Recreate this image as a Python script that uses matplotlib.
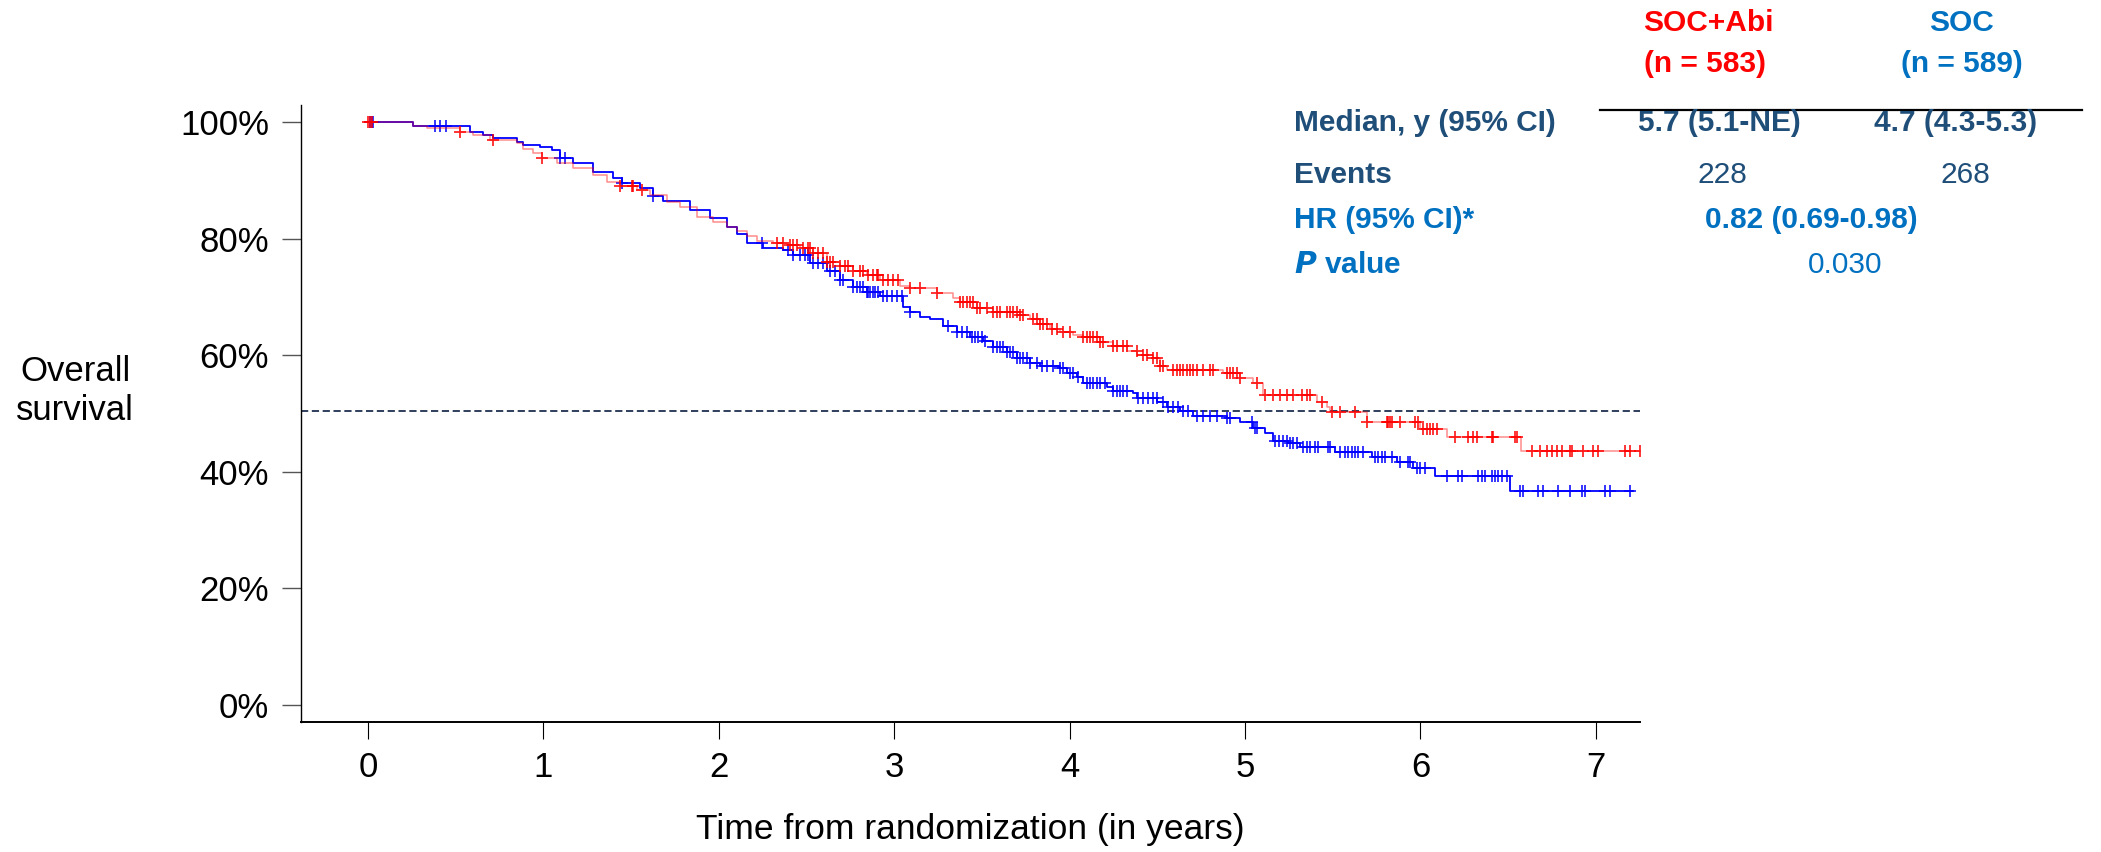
import numpy as np
import matplotlib
matplotlib.use("Agg")
import matplotlib.pyplot as plt

# -----------------------------
# Kaplan-Meier steps (years, survival after each drop)
# -----------------------------
abi_t = [0.0, 0.258, 0.334, 0.392, 0.525, 0.601, 0.696, 0.848, 0.885, 0.943,
         0.990, 1.076, 1.171, 1.285, 1.361, 1.437, 1.532, 1.608, 1.703, 1.779,
         1.874, 1.969, 2.045, 2.102, 2.159, 2.216, 2.311, 2.387, 2.463, 2.539,
         2.615, 2.691, 2.767, 2.843, 2.919, 3.033, 3.090, 3.242, 3.337, 3.375,
         3.470, 3.565, 3.717, 3.774, 3.831, 3.888, 3.945, 4.021, 4.078, 4.173,
         4.249, 4.326, 4.383, 4.477, 4.515, 4.553, 4.876, 4.971, 5.047, 5.104,
         5.409, 5.467, 5.486, 5.694, 5.998, 6.150, 6.575]
abi_s = [1.000, 0.993, 0.991, 0.990, 0.984, 0.978, 0.970, 0.964, 0.955, 0.947,
         0.938, 0.930, 0.921, 0.910, 0.898, 0.891, 0.884, 0.875, 0.864, 0.855,
         0.838, 0.829, 0.821, 0.814, 0.804, 0.797, 0.793, 0.789, 0.784, 0.775,
         0.761, 0.753, 0.744, 0.738, 0.729, 0.719, 0.715, 0.7075, 0.698, 0.692,
         0.682, 0.675, 0.669, 0.662, 0.654, 0.646, 0.640, 0.635, 0.631, 0.622,
         0.616, 0.608, 0.6005, 0.595, 0.582, 0.575, 0.569, 0.5605, 0.552, 0.532,
         0.520, 0.512, 0.502, 0.486, 0.473, 0.459, 0.436]
abi_end = 7.252

soc_t = [0.0, 0.258, 0.582, 0.658, 0.715, 0.848, 0.885, 0.981, 1.047, 1.095,
         1.171, 1.285, 1.399, 1.446, 1.551, 1.627, 1.684, 1.836, 1.950, 2.045,
         2.102, 2.159, 2.254, 2.368, 2.425, 2.520, 2.615, 2.691, 2.767, 2.843,
         2.919, 3.052, 3.090, 3.147, 3.204, 3.280, 3.356, 3.432, 3.508, 3.565,
         3.641, 3.698, 3.774, 3.831, 3.945, 3.983, 4.040, 4.078, 4.211, 4.249,
         4.363, 4.383, 4.497, 4.553, 4.629, 4.705, 4.895, 4.970, 5.048, 5.114,
         5.162, 5.247, 5.314, 5.513, 5.722, 5.865, 5.960, 6.083, 6.511]
soc_s = [1.000, 0.993, 0.984, 0.978, 0.9725, 0.967, 0.961, 0.957, 0.952, 0.938,
         0.930, 0.915, 0.904, 0.895, 0.887, 0.873, 0.865, 0.849, 0.835, 0.820,
         0.809, 0.792, 0.785, 0.781, 0.772, 0.758, 0.744, 0.729, 0.718, 0.709,
         0.701, 0.683, 0.675, 0.666, 0.662, 0.650, 0.640, 0.632, 0.625, 0.615,
         0.606, 0.595, 0.587, 0.582, 0.578, 0.570, 0.562, 0.552, 0.546, 0.539,
         0.535, 0.526, 0.519, 0.512, 0.505, 0.496, 0.492, 0.486, 0.475, 0.466,
         0.453, 0.449, 0.443, 0.4335, 0.426, 0.416, 0.406, 0.392, 0.367]
soc_end = 7.214

# censoring times
abi_cens = [0.0, 0.01, 0.02, 0.525, 0.715, 0.990, 1.437, 1.503, 1.512, 1.560,
            2.330, 2.368, 2.406, 2.425, 2.444, 2.482, 2.511, 2.520, 2.539, 2.567,
            2.596, 2.615, 2.634, 2.653, 2.691, 2.719, 2.738, 2.767, 2.805, 2.824,
            2.852, 2.881, 2.900, 2.910, 2.938, 2.967, 2.995, 3.024, 3.090, 3.147,
            3.242, 3.375, 3.394, 3.413, 3.432, 3.451, 3.470, 3.489, 3.527, 3.565,
            3.584, 3.603, 3.641, 3.660, 3.679, 3.698, 3.717, 3.736, 3.793, 3.812,
            3.831, 3.850, 3.869, 3.898, 3.926, 3.964, 4.002, 4.078, 4.097, 4.116,
            4.135, 4.154, 4.173, 4.192, 4.249, 4.268, 4.306, 4.325, 4.382, 4.420,
            4.439, 4.477, 4.496, 4.515, 4.534, 4.591, 4.610, 4.629, 4.648, 4.667,
            4.686, 4.705, 4.724, 4.762, 4.800, 4.819, 4.895, 4.914, 4.933, 4.952,
            4.972, 5.067, 5.114, 5.162, 5.200, 5.238, 5.276, 5.324, 5.352, 5.371,
            5.438, 5.495, 5.542, 5.628, 5.694, 5.808, 5.818, 5.827, 5.837, 5.884,
            5.970, 5.989, 6.017, 6.036, 6.055, 6.074, 6.093, 6.198, 6.274, 6.302,
            6.321, 6.407, 6.416, 6.540, 6.549, 6.635, 6.682, 6.720, 6.749, 6.777,
            6.806, 6.853, 6.863, 6.929, 6.986, 7.015, 7.167, 7.195, 7.252]
soc_cens = [0.01, 0.02, 0.03, 0.382, 0.410, 0.445, 1.095, 1.124, 1.446, 1.627,
            2.245, 2.396, 2.425, 2.463, 2.492, 2.511, 2.539, 2.567, 2.596, 2.634,
            2.662, 2.691, 2.710, 2.767, 2.786, 2.805, 2.824, 2.843, 2.853, 2.862,
            2.881, 2.890, 2.909, 2.938, 2.957, 2.986, 3.014, 3.043, 3.090, 3.309,
            3.356, 3.385, 3.413, 3.442, 3.461, 3.480, 3.499, 3.518, 3.565, 3.584,
            3.603, 3.622, 3.641, 3.660, 3.679, 3.698, 3.717, 3.736, 3.755, 3.774,
            3.812, 3.841, 3.869, 3.907, 3.945, 3.964, 4.002, 4.021, 4.050, 4.097,
            4.116, 4.135, 4.154, 4.173, 4.202, 4.249, 4.268, 4.287, 4.306, 4.325,
            4.392, 4.420, 4.449, 4.477, 4.496, 4.534, 4.563, 4.591, 4.620, 4.648,
            4.677, 4.724, 4.762, 4.800, 4.838, 4.895, 4.914, 5.039, 5.058, 5.067,
            5.172, 5.191, 5.219, 5.238, 5.257, 5.276, 5.295, 5.333, 5.352, 5.371,
            5.400, 5.419, 5.476, 5.485, 5.542, 5.571, 5.590, 5.609, 5.628, 5.647,
            5.675, 5.742, 5.761, 5.780, 5.799, 5.837, 5.884, 5.932, 5.941, 5.979,
            5.998, 6.027, 6.150, 6.217, 6.236, 6.331, 6.350, 6.369, 6.407, 6.426,
            6.445, 6.464, 6.492, 6.568, 6.587, 6.673, 6.701, 6.787, 6.853, 6.920,
            6.939, 7.053, 7.081, 7.195]

x_ticks = [0, 1, 2, 3, 4, 5, 6, 7]
y_ticks = [0.0, 0.2, 0.4, 0.6, 0.8, 1.0]
y_ticklabels = ["0%", "20%", "40%", "60%", "80%", "100%"]
median_level = 0.505

# summary table
arm_names = ["SOC+Abi", "SOC"]
arm_n = ["(n = 583)", "(n = 589)"]
medians = ["5.7 (5.1-NE)", "4.7 (4.3-5.3)"]
events = ["228", "268"]
hr_text = "0.82 (0.69-0.98)"
p_text = "0.030"

RED = "#FF0000"
BLUE = "#0000FF"
TBL_BLUE = "#0070C0"
NAVY = "#1F4E79"

plt.rcParams["font.family"] = ["Liberation Sans", "DejaVu Sans"]

W, H = 2101, 852
fig = plt.figure(figsize=(W / 100, H / 100), dpi=100)
ax = fig.add_axes([301 / W, 1 - 722 / H, (1640 - 301) / W, (722 - 105) / H])


def px(x, y):
    return x / W, 1 - y / H


def step_at(times, surv, q):
    idx = np.searchsorted(times, q, side="right") - 1
    return np.asarray(surv)[np.clip(idx, 0, len(surv) - 1)]


def draw_arm(times, surv, end, cens, color, line_alpha, lw, z):
    t = np.append(times, end)
    s = np.append(surv, surv[-1])
    ax.step(t, s, where="post", color=color, lw=lw, alpha=line_alpha, zorder=z)
    c = np.asarray(cens)
    ax.plot(c, step_at(times, surv, c), linestyle="none", marker="+",
            markersize=8, markeredgewidth=1.3, color=color, alpha=0.85,
            zorder=z + 0.5)


draw_arm(soc_t, soc_s, soc_end, soc_cens, BLUE, 1.0, 1.3, 3)
draw_arm(abi_t, abi_s, abi_end, abi_cens, RED, 0.45, 1.1, 4)

ax.axhline(median_level, color="#1F2F4F", lw=1.3, dashes=(4, 2), zorder=2)

ax.set_xlim(-0.382, 7.252)
ax.set_ylim(-0.0295, 1.0297)
ax.set_xticks(x_ticks)
ax.set_xticklabels([str(v) for v in x_ticks])
ax.set_yticks(y_ticks)
ax.set_yticklabels(y_ticklabels)

for side in ["top", "right"]:
    ax.spines[side].set_visible(False)
ax.spines["left"].set_linewidth(1.0)
ax.spines["bottom"].set_linewidth(1.4)
ax.tick_params(axis="y", length=14, width=1.0, color="#555555", pad=9,
               labelsize=25)
ax.tick_params(axis="x", length=12, width=0.8, pad=9, labelsize=25)

# axis titles
fig.text(*px(970, 829), "Time from randomization (in years)", fontsize=25.5,
         ha="center", va="center")
fig.text(*px(75, 391), "Overall\nsurvival", fontsize=25,
         ha="center", va="center", linespacing=1.2)

# header of the summary table
fig.text(*px(1708, 23), arm_names[0], color=RED, fontsize=21.5,
         fontweight="bold", ha="center", va="center")
fig.text(*px(1705, 64), arm_n[0], color=RED, fontsize=21.5,
         fontweight="bold", ha="center", va="center")
fig.text(*px(1961, 23), arm_names[1], color=TBL_BLUE, fontsize=21.5,
         fontweight="bold", ha="center", va="center")
fig.text(*px(1962, 64), arm_n[1], color=TBL_BLUE, fontsize=21.5,
         fontweight="bold", ha="center", va="center")
fig.add_artist(plt.Line2D([1600 / W, 2082 / W], [1 - 110 / H, 1 - 110 / H],
                          color="black", lw=1.6, transform=fig.transFigure))

row_y = [123, 175, 220, 265]
fig.text(*px(1294, row_y[0]), "Median, y (95% CI)", color=NAVY,
         fontsize=21.5, fontweight="bold", va="center")
fig.text(*px(1719, row_y[0]), medians[0], color=NAVY, fontsize=21.5,
         fontweight="bold", ha="center", va="center")
fig.text(*px(1956, row_y[0]), medians[1], color=NAVY, fontsize=21.5,
         fontweight="bold", ha="center", va="center")

fig.text(*px(1294, row_y[1]), "Events", color=NAVY, fontsize=21.5,
         fontweight="bold", va="center")
fig.text(*px(1722, row_y[1]), events[0], color=NAVY, fontsize=21.5,
         ha="center", va="center")
fig.text(*px(1965, row_y[1]), events[1], color=NAVY, fontsize=21.5,
         ha="center", va="center")

fig.text(*px(1294, row_y[2]), "HR (95% CI)*", color=TBL_BLUE, fontsize=21.5,
         fontweight="bold", va="center")
fig.text(*px(1811, row_y[2]), hr_text, color=TBL_BLUE, fontsize=21.5,
         fontweight="bold", ha="center", va="center")

fig.text(*px(1294, row_y[3]), r"$\bfit{P}$ value", color=TBL_BLUE,
         fontsize=21.5, fontweight="bold", va="center")
fig.text(*px(1845, row_y[3]), p_text, color=TBL_BLUE, fontsize=21.5,
         ha="center", va="center")

fig.savefig("out.png", dpi=100)
